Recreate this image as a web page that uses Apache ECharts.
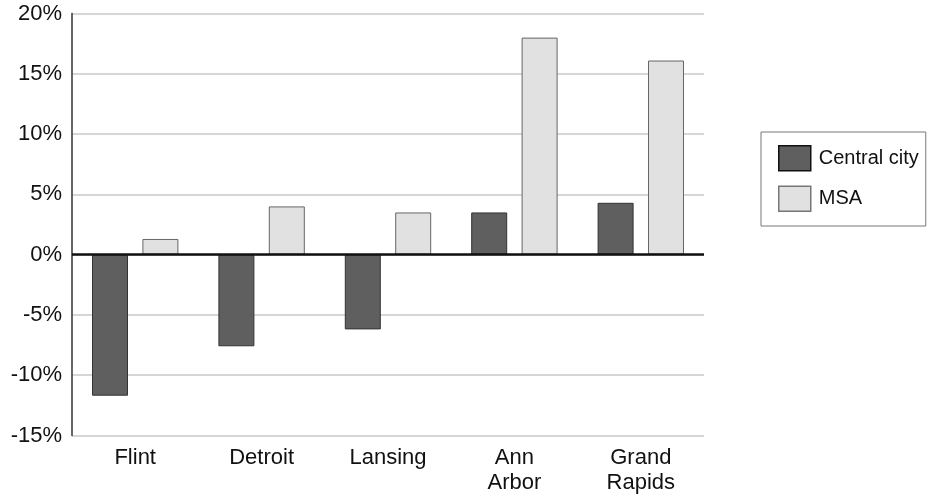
<!DOCTYPE html>
<html>
<head>
<meta charset="utf-8">
<script src="https://cdn.jsdelivr.net/npm/echarts@6/dist/echarts.min.js"></script>
<style>html,body{margin:0;padding:0;background:#fff}#c{width:928px;height:499px}</style>
</head>
<body>
<div id="c"></div>
<script>
var categories = ['Flint', 'Detroit', 'Lansing', 'Ann\nArbor', 'Grand\nRapids'];
var centralCity = [-11.7, -7.6, -6.2, 3.5, 4.3];
var msa = [1.3, 4.0, 3.5, 18.0, 16.1];
var seriesNames = ['Central city', 'MSA'];
var yMin = -15, yMax = 20, yStep = 5;

var FONT = '"Liberation Sans", Arial, sans-serif';
var chart = echarts.init(document.getElementById('c'), null, {renderer: 'canvas'});
chart.setOption({
  animation: false,
  backgroundColor: '#fff',
  textStyle: {fontFamily: FONT},
  grid: {left: 72, right: 224, top: 13.5, bottom: 63.5, containLabel: false},
  legend: {
    orient: 'vertical',
    left: 761, top: 132,
    padding: [13, 7, 14, 17],
    borderColor: '#777', borderWidth: 1,
    itemWidth: 32, itemHeight: 25, itemGap: 14,
    icon: 'rect',
    textStyle: {fontSize: 20, color: '#111', fontFamily: FONT, padding: [0, 0, 0, 3]},
    data: [
      {name: seriesNames[0], icon: 'rect', itemStyle: {color: '#5f5f5f', borderColor: '#111', borderWidth: 1.5}},
      {name: seriesNames[1], icon: 'rect', itemStyle: {color: '#e1e1e1', borderColor: '#777', borderWidth: 1.5}}
    ]
  },
  xAxis: {
    type: 'category',
    data: categories,
    axisLine: {show: false, onZero: false},
    axisTick: {show: false},
    axisLabel: {fontSize: 22, color: '#111', margin: 10, lineHeight: 25, fontFamily: FONT, interval: 0}
  },
  yAxis: {
    type: 'value',
    min: yMin, max: yMax, interval: yStep,
    axisLine: {show: true, lineStyle: {color: '#333', width: 1.5}},
    axisTick: {show: false},
    splitLine: {show: true, lineStyle: {color: '#c8c8c8', width: 1.5}},
    axisLabel: {fontSize: 22, color: '#111', margin: 10, fontFamily: FONT, formatter: '{value}%'}
  },
  series: [
    {
      name: seriesNames[0], type: 'bar', data: centralCity,
      barWidth: 36, barGap: '40%',
      itemStyle: {color: '#5f5f5f', borderColor: '#333', borderWidth: 1},
      markLine: {
        silent: true, symbol: 'none', label: {show: false},
        lineStyle: {color: '#111', width: 2.5, type: 'solid'},
        data: [{yAxis: 0}],
        z: 10
      }
    },
    {
      name: seriesNames[1], type: 'bar', data: msa,
      barWidth: 36, barGap: '40%',
      itemStyle: {color: '#e1e1e1', borderColor: '#666', borderWidth: 1}
    }
  ]
});
</script>
</body>
</html>
